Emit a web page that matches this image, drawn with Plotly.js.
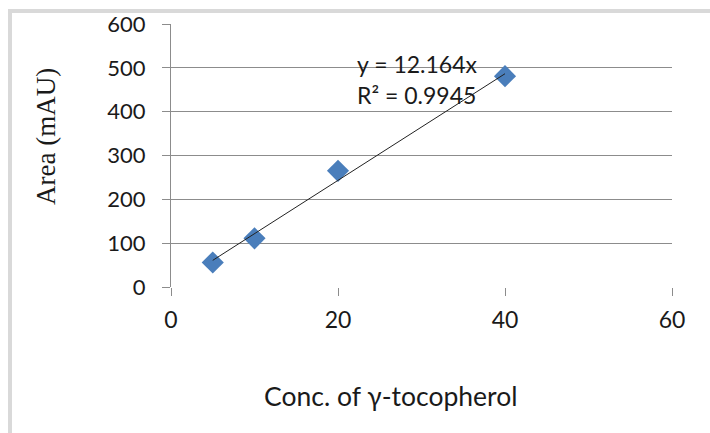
<!DOCTYPE html>
<html><head><meta charset="utf-8">
<script src="https://cdn.plot.ly/plotly-3.0.1.min.js"></script>
<style>body{margin:0;background:#fff}#c{width:710px;height:433px}</style>
</head><body><div id="c"></div>
<script>
const conc = [5, 10, 20, 40];
const area = [56, 111, 265, 481];
const slope = 12.164;
const r2 = 0.9945;
const trendX = [5, 40];
const trendY = trendX.map(x => slope * x);
const xTicks = [0, 20, 40, 60];
const yTicks = [0, 100, 200, 300, 400, 500, 600];

const font = "Lato, 'Open Sans', sans-serif";
const txt = '#1a1a1a';
const data = [
  {x: conc, y: area, type: 'scatter', mode: 'markers',
   marker: {symbol: 'diamond', size: 17, color: '#4a7ebb'}, hoverinfo: 'none'},
  {x: trendX, y: trendY, type: 'scatter', mode: 'lines',
   line: {color: '#222', width: 1}, hoverinfo: 'none'}
];
const gray = '#d9d9d9';
const px = p => (p - 171) / 501;
const py = p => (287 - p) / 263;
const layout = {
  width: 710, height: 433, showlegend: false,
  margin: {l: 171, r: 38, t: 24, b: 146},
  paper_bgcolor: '#fff', plot_bgcolor: '#fff',
  font: {family: font, size: 22, color: txt},
  xaxis: {range: [0, 60], tickvals: xTicks, showgrid: false, zeroline: false,
    showline: false, ticks: 'outside', ticklen: 8, tickcolor: '#8c8c8c',
    ticklabelstandoff: 4,
    tickfont: {family: font, size: 23, color: txt}, fixedrange: true},
  yaxis: {range: [0, 600], tickvals: yTicks, showgrid: true, gridcolor: '#8c8c8c',
    zeroline: false, showline: true, linecolor: '#8c8c8c', ticks: 'outside', ticklen: 8,
    tickcolor: '#8c8c8c', ticklabelstandoff: 12,
    tickfont: {family: font, size: 22, color: txt}, fixedrange: true},
  shapes: [
    {type: 'rect', xref: 'paper', yref: 'paper', x0: px(8), x1: px(710), y0: py(13), y1: py(9),
     fillcolor: gray, line: {width: 0}, layer: 'below'},
    {type: 'rect', xref: 'paper', yref: 'paper', x0: px(8), x1: px(12), y0: py(433), y1: py(9),
     fillcolor: gray, line: {width: 0}, layer: 'below'}
  ],
  annotations: [
    {xref: 'paper', yref: 'paper', x: px(46), y: py(137), xanchor: 'center', yanchor: 'middle',
     text: 'Area (mAU)', textangle: -90, showarrow: false,
     font: {family: "'Liberation Serif', serif", size: 27, color: txt}},
    {xref: 'paper', yref: 'paper', x: px(390), y: py(396), xanchor: 'center', yanchor: 'middle',
     text: 'Conc. of γ-tocopherol', showarrow: false, font: {family: font, size: 26.5, color: txt}},
    {xref: 'paper', yref: 'paper', x: px(355), y: py(64), xanchor: 'left', yanchor: 'middle',
     text: 'y = ' + slope + 'x', showarrow: false, font: {family: font, size: 23, color: txt}},
    {xref: 'paper', yref: 'paper', x: px(355), y: py(95), xanchor: 'left', yanchor: 'middle',
     text: 'R² = ' + r2, showarrow: false, font: {family: font, size: 23, color: txt}}
  ]
};
Plotly.newPlot('c', data, layout, {staticPlot: true});
</script></body></html>
